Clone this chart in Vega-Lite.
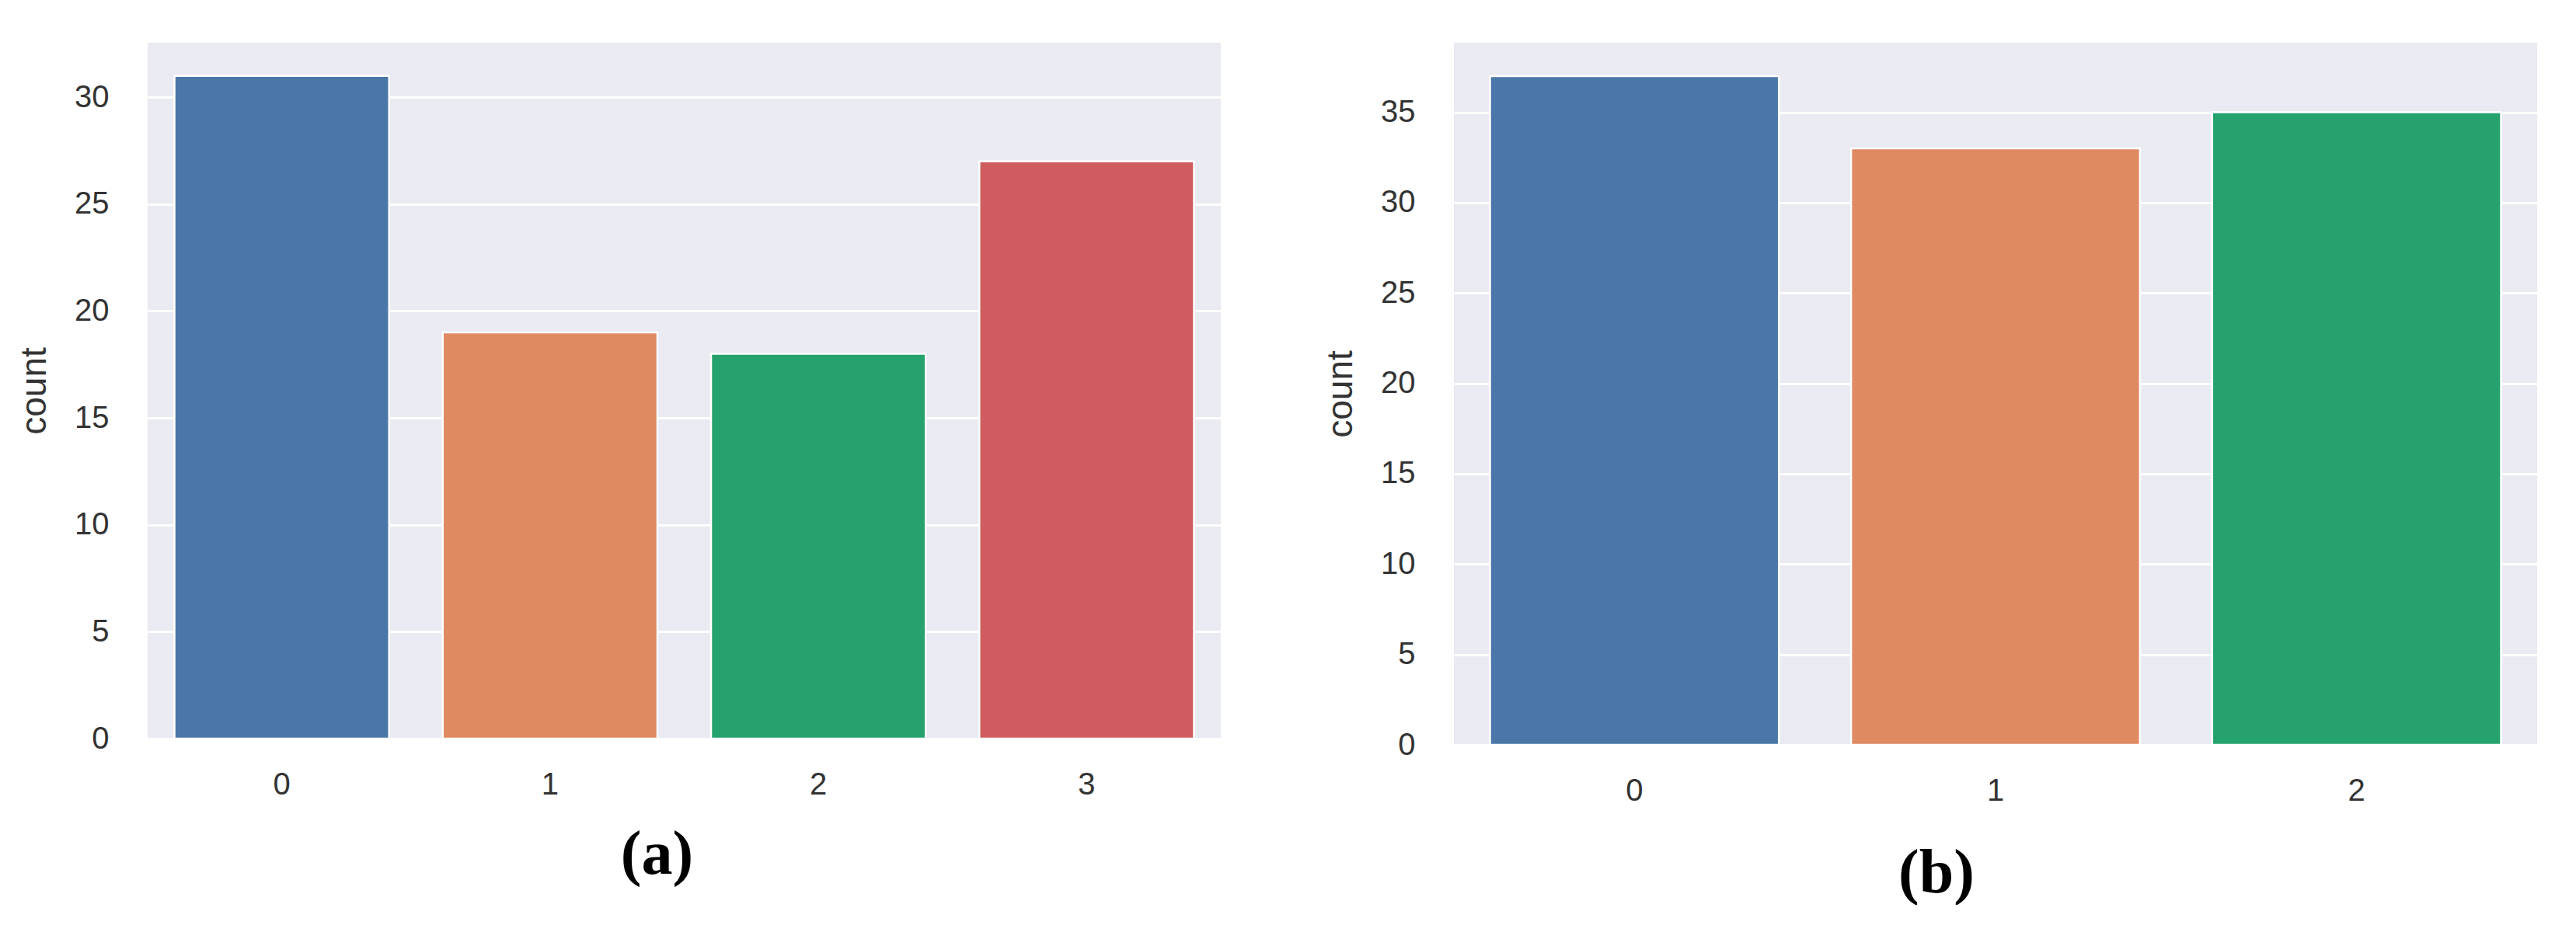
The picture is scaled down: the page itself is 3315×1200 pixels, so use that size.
{
  "$schema": "https://vega.github.io/schema/vega-lite/v6.json",
  "background": "white",
  "padding": {"left": 21, "top": 55, "right": 0, "bottom": 0},
  "spacing": 131,
  "datasets": {
    "a": [
      {"cls": "0", "count": 31},
      {"cls": "1", "count": 19},
      {"cls": "2", "count": 18},
      {"cls": "3", "count": 27}
    ],
    "b": [
      {"cls": "0", "count": 37},
      {"cls": "1", "count": 33},
      {"cls": "2", "count": 35}
    ]
  },
  "config": {
    "view": {"fill": "#EAEAF2", "stroke": null},
    "axis": {
      "grid": true,
      "gridColor": "#FFFFFF",
      "gridWidth": 3,
      "domain": false,
      "ticks": false,
      "labelFont": "Liberation Sans",
      "labelFontSize": 40,
      "labelColor": "#333333",
      "titleFont": "Liberation Sans",
      "titleFontSize": 46,
      "titleFontWeight": "normal",
      "titleColor": "#333333"
    },
    "axisX": {"grid": false, "labelPadding": 39, "labelAngle": 0},
    "axisY": {"labelPadding": 50, "titlePadding": 27},
    "title": {
      "orient": "bottom",
      "font": "Liberation Serif",
      "fontSize": 80,
      "fontWeight": "bold",
      "color": "#000000",
      "anchor": "middle",
      "frame": "group"
    }
  },
  "hconcat": [
    {
      "width": 1381,
      "height": 896,
      "data": {"name": "a"},
      "title": {"text": "(a)", "dx": -35, "offset": 32},
      "mark": {"type": "bar", "stroke": "#FFFFFF", "strokeWidth": 2.5},
      "encoding": {
        "x": {
          "field": "cls", "type": "nominal", "title": null,
          "scale": {"paddingInner": 0.2, "paddingOuter": 0.1}
        },
        "y": {
          "field": "count", "type": "quantitative", "title": "count",
          "scale": {"domain": [0, 32.55], "nice": false},
          "axis": {"values": [0, 5, 10, 15, 20, 25, 30]}
        },
        "color": {
          "field": "cls", "type": "nominal", "legend": null,
          "scale": {"domain": ["0", "1", "2", "3"], "range": ["#4A76A8", "#E08A62", "#25A26D", "#CF5D60"]}
        }
      }
    },
    {
      "width": 1394,
      "height": 904,
      "data": {"name": "b"},
      "title": {"text": "(b)", "dx": -76, "offset": 48},
      "mark": {"type": "bar", "stroke": "#FFFFFF", "strokeWidth": 2.5},
      "encoding": {
        "x": {
          "field": "cls", "type": "nominal", "title": null,
          "scale": {"paddingInner": 0.2, "paddingOuter": 0.1}
        },
        "y": {
          "field": "count", "type": "quantitative", "title": "count",
          "scale": {"domain": [0, 38.85], "nice": false},
          "axis": {"values": [0, 5, 10, 15, 20, 25, 30, 35]}
        },
        "color": {
          "field": "cls", "type": "nominal", "legend": null,
          "scale": {"domain": ["0", "1", "2"], "range": ["#4A76A8", "#E08A62", "#25A26D"]}
        }
      }
    }
  ]
}
